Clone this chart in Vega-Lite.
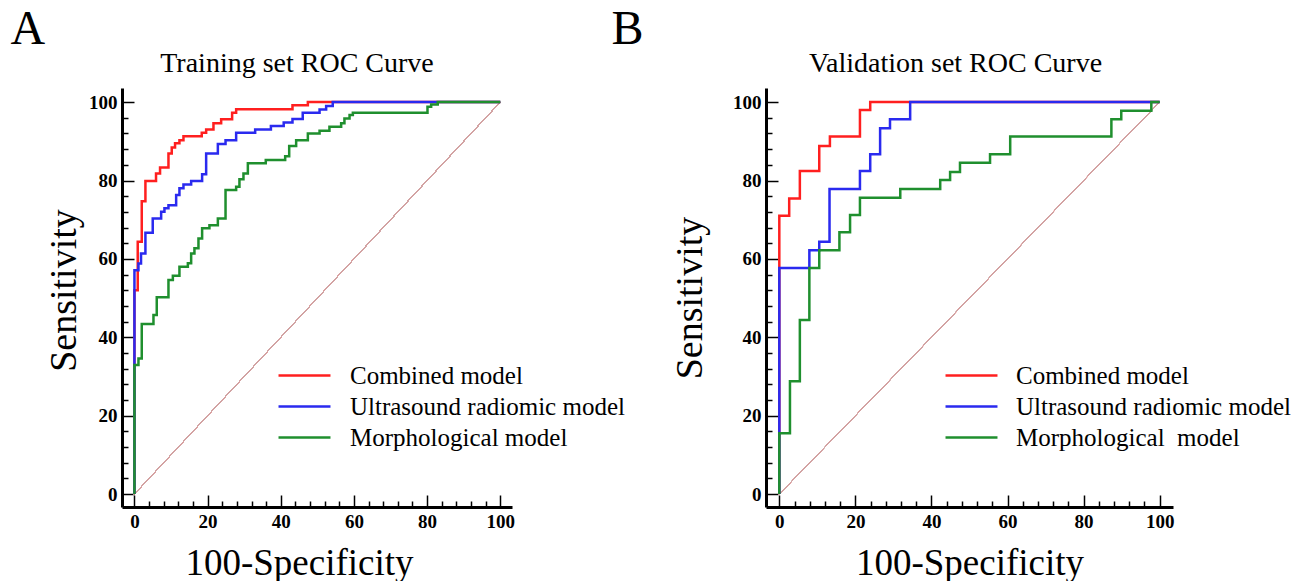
{
  "$schema": "https://vega.github.io/schema/vega-lite/v6.json",
  "background": "white",
  "padding": {"left": 10, "top": 6, "right": 0, "bottom": 0},
  "config": {
    "view": {"stroke": null},
    "font": "Liberation Serif",
    "concat": {"spacing": -14}
  },
  "resolve": {"scale": {"color": "independent"}, "legend": {"color": "independent"}},
  "datasets": {
    "training": [
      {"model": "Combined model", "i": 0, "fpr": 0, "tpr": 0},
      {"model": "Combined model", "i": 1, "fpr": 0, "tpr": 52},
      {"model": "Combined model", "i": 2, "fpr": 0.9, "tpr": 64.4},
      {"model": "Combined model", "i": 3, "fpr": 2.0, "tpr": 74.7},
      {"model": "Combined model", "i": 4, "fpr": 3.0, "tpr": 79.9},
      {"model": "Combined model", "i": 5, "fpr": 5.9, "tpr": 81.8},
      {"model": "Combined model", "i": 6, "fpr": 7.0, "tpr": 83.3},
      {"model": "Combined model", "i": 7, "fpr": 9.3, "tpr": 86.9},
      {"model": "Combined model", "i": 8, "fpr": 10.2, "tpr": 88.4},
      {"model": "Combined model", "i": 9, "fpr": 11.1, "tpr": 89.5},
      {"model": "Combined model", "i": 10, "fpr": 12.3, "tpr": 90.3},
      {"model": "Combined model", "i": 11, "fpr": 13.4, "tpr": 91.3},
      {"model": "Combined model", "i": 12, "fpr": 18.4, "tpr": 92.2},
      {"model": "Combined model", "i": 13, "fpr": 19.6, "tpr": 93.0},
      {"model": "Combined model", "i": 14, "fpr": 21.6, "tpr": 94.6},
      {"model": "Combined model", "i": 15, "fpr": 23.7, "tpr": 95.6},
      {"model": "Combined model", "i": 16, "fpr": 26.7, "tpr": 97.3},
      {"model": "Combined model", "i": 17, "fpr": 27.8, "tpr": 98.2},
      {"model": "Combined model", "i": 18, "fpr": 43.2, "tpr": 99.2},
      {"model": "Combined model", "i": 19, "fpr": 47.4, "tpr": 100},
      {"model": "Combined model", "i": 20, "fpr": 100, "tpr": 100},
      {"model": "Ultrasound radiomic model", "i": 0, "fpr": 0, "tpr": 0},
      {"model": "Ultrasound radiomic model", "i": 1, "fpr": 0, "tpr": 57.1},
      {"model": "Ultrasound radiomic model", "i": 2, "fpr": 1.1, "tpr": 58.8},
      {"model": "Ultrasound radiomic model", "i": 3, "fpr": 1.8, "tpr": 61.4},
      {"model": "Ultrasound radiomic model", "i": 4, "fpr": 3.0, "tpr": 66.7},
      {"model": "Ultrasound radiomic model", "i": 5, "fpr": 5.0, "tpr": 70.3},
      {"model": "Ultrasound radiomic model", "i": 6, "fpr": 7.3, "tpr": 72.0},
      {"model": "Ultrasound radiomic model", "i": 7, "fpr": 8.2, "tpr": 72.9},
      {"model": "Ultrasound radiomic model", "i": 8, "fpr": 9.3, "tpr": 73.7},
      {"model": "Ultrasound radiomic model", "i": 9, "fpr": 11.4, "tpr": 76.3},
      {"model": "Ultrasound radiomic model", "i": 10, "fpr": 12.3, "tpr": 78.0},
      {"model": "Ultrasound radiomic model", "i": 11, "fpr": 13.4, "tpr": 79.0},
      {"model": "Ultrasound radiomic model", "i": 12, "fpr": 15.5, "tpr": 79.9},
      {"model": "Ultrasound radiomic model", "i": 13, "fpr": 18.5, "tpr": 81.6},
      {"model": "Ultrasound radiomic model", "i": 14, "fpr": 19.6, "tpr": 86.9},
      {"model": "Ultrasound radiomic model", "i": 15, "fpr": 22.8, "tpr": 89.3},
      {"model": "Ultrasound radiomic model", "i": 16, "fpr": 24.9, "tpr": 90.3},
      {"model": "Ultrasound radiomic model", "i": 17, "fpr": 27.8, "tpr": 92.2},
      {"model": "Ultrasound radiomic model", "i": 18, "fpr": 33.0, "tpr": 93.0},
      {"model": "Ultrasound radiomic model", "i": 19, "fpr": 37.3, "tpr": 93.9},
      {"model": "Ultrasound radiomic model", "i": 20, "fpr": 40.8, "tpr": 94.8},
      {"model": "Ultrasound radiomic model", "i": 21, "fpr": 43.2, "tpr": 95.7},
      {"model": "Ultrasound radiomic model", "i": 22, "fpr": 46.0, "tpr": 97.3},
      {"model": "Ultrasound radiomic model", "i": 23, "fpr": 50.6, "tpr": 98.1},
      {"model": "Ultrasound radiomic model", "i": 24, "fpr": 52.4, "tpr": 99.0},
      {"model": "Ultrasound radiomic model", "i": 25, "fpr": 54.2, "tpr": 100},
      {"model": "Ultrasound radiomic model", "i": 26, "fpr": 100, "tpr": 100},
      {"model": "Morphological model", "i": 0, "fpr": 0, "tpr": 0},
      {"model": "Morphological model", "i": 1, "fpr": 0, "tpr": 32.9},
      {"model": "Morphological model", "i": 2, "fpr": 1.1, "tpr": 34.6},
      {"model": "Morphological model", "i": 3, "fpr": 2.0, "tpr": 43.4},
      {"model": "Morphological model", "i": 4, "fpr": 5.2, "tpr": 45.7},
      {"model": "Morphological model", "i": 5, "fpr": 6.1, "tpr": 50.2},
      {"model": "Morphological model", "i": 6, "fpr": 9.3, "tpr": 54.6},
      {"model": "Morphological model", "i": 7, "fpr": 10.5, "tpr": 55.7},
      {"model": "Morphological model", "i": 8, "fpr": 12.3, "tpr": 58.0},
      {"model": "Morphological model", "i": 9, "fpr": 14.6, "tpr": 58.9},
      {"model": "Morphological model", "i": 10, "fpr": 15.5, "tpr": 61.4},
      {"model": "Morphological model", "i": 11, "fpr": 16.4, "tpr": 62.7},
      {"model": "Morphological model", "i": 12, "fpr": 17.5, "tpr": 65.2},
      {"model": "Morphological model", "i": 13, "fpr": 18.5, "tpr": 67.8},
      {"model": "Morphological model", "i": 14, "fpr": 20.5, "tpr": 68.6},
      {"model": "Morphological model", "i": 15, "fpr": 22.8, "tpr": 70.3},
      {"model": "Morphological model", "i": 16, "fpr": 24.9, "tpr": 77.6},
      {"model": "Morphological model", "i": 17, "fpr": 27.8, "tpr": 78.4},
      {"model": "Morphological model", "i": 18, "fpr": 28.7, "tpr": 80.3},
      {"model": "Morphological model", "i": 19, "fpr": 29.8, "tpr": 81.8},
      {"model": "Morphological model", "i": 20, "fpr": 31.0, "tpr": 84.4},
      {"model": "Morphological model", "i": 21, "fpr": 35.9, "tpr": 85.2},
      {"model": "Morphological model", "i": 22, "fpr": 41.2, "tpr": 86.2},
      {"model": "Morphological model", "i": 23, "fpr": 42.3, "tpr": 88.8},
      {"model": "Morphological model", "i": 24, "fpr": 44.2, "tpr": 90.3},
      {"model": "Morphological model", "i": 25, "fpr": 47.4, "tpr": 92.0},
      {"model": "Morphological model", "i": 26, "fpr": 50.6, "tpr": 92.7},
      {"model": "Morphological model", "i": 27, "fpr": 53.3, "tpr": 93.7},
      {"model": "Morphological model", "i": 28, "fpr": 56.5, "tpr": 94.6},
      {"model": "Morphological model", "i": 29, "fpr": 57.4, "tpr": 95.8},
      {"model": "Morphological model", "i": 30, "fpr": 58.8, "tpr": 96.7},
      {"model": "Morphological model", "i": 31, "fpr": 59.7, "tpr": 97.3},
      {"model": "Morphological model", "i": 32, "fpr": 80.1, "tpr": 98.8},
      {"model": "Morphological model", "i": 33, "fpr": 81.1, "tpr": 99.4},
      {"model": "Morphological model", "i": 34, "fpr": 82.9, "tpr": 100},
      {"model": "Morphological model", "i": 35, "fpr": 100, "tpr": 100}
    ],
    "validation": [
      {"model": "Combined model", "i": 0, "fpr": 0, "tpr": 0},
      {"model": "Combined model", "i": 1, "fpr": 0, "tpr": 71.0},
      {"model": "Combined model", "i": 2, "fpr": 2.6, "tpr": 75.4},
      {"model": "Combined model", "i": 3, "fpr": 5.4, "tpr": 82.4},
      {"model": "Combined model", "i": 4, "fpr": 10.5, "tpr": 88.8},
      {"model": "Combined model", "i": 5, "fpr": 13.3, "tpr": 91.2},
      {"model": "Combined model", "i": 6, "fpr": 21.2, "tpr": 98.0},
      {"model": "Combined model", "i": 7, "fpr": 23.9, "tpr": 100},
      {"model": "Combined model", "i": 8, "fpr": 100, "tpr": 100},
      {"model": "Ultrasound radiomic model", "i": 0, "fpr": 0, "tpr": 0},
      {"model": "Ultrasound radiomic model", "i": 1, "fpr": 0, "tpr": 57.7},
      {"model": "Ultrasound radiomic model", "i": 2, "fpr": 7.9, "tpr": 62.2},
      {"model": "Ultrasound radiomic model", "i": 3, "fpr": 10.5, "tpr": 64.4},
      {"model": "Ultrasound radiomic model", "i": 4, "fpr": 13.2, "tpr": 77.8},
      {"model": "Ultrasound radiomic model", "i": 5, "fpr": 21.2, "tpr": 82.4},
      {"model": "Ultrasound radiomic model", "i": 6, "fpr": 23.9, "tpr": 86.7},
      {"model": "Ultrasound radiomic model", "i": 7, "fpr": 26.5, "tpr": 93.3},
      {"model": "Ultrasound radiomic model", "i": 8, "fpr": 29.1, "tpr": 95.6},
      {"model": "Ultrasound radiomic model", "i": 9, "fpr": 34.4, "tpr": 100},
      {"model": "Ultrasound radiomic model", "i": 10, "fpr": 100, "tpr": 100},
      {"model": "Morphological\u00a0 model", "i": 0, "fpr": 0, "tpr": 0},
      {"model": "Morphological\u00a0 model", "i": 1, "fpr": 0, "tpr": 15.5},
      {"model": "Morphological\u00a0 model", "i": 2, "fpr": 2.8, "tpr": 28.8},
      {"model": "Morphological\u00a0 model", "i": 3, "fpr": 5.4, "tpr": 44.4},
      {"model": "Morphological\u00a0 model", "i": 4, "fpr": 7.9, "tpr": 57.7},
      {"model": "Morphological\u00a0 model", "i": 5, "fpr": 10.5, "tpr": 62.2},
      {"model": "Morphological\u00a0 model", "i": 6, "fpr": 15.8, "tpr": 66.8},
      {"model": "Morphological\u00a0 model", "i": 7, "fpr": 18.6, "tpr": 71.2},
      {"model": "Morphological\u00a0 model", "i": 8, "fpr": 21.2, "tpr": 75.6},
      {"model": "Morphological\u00a0 model", "i": 9, "fpr": 31.8, "tpr": 77.8},
      {"model": "Morphological\u00a0 model", "i": 10, "fpr": 42.3, "tpr": 80.1},
      {"model": "Morphological\u00a0 model", "i": 11, "fpr": 44.9, "tpr": 82.2},
      {"model": "Morphological\u00a0 model", "i": 12, "fpr": 47.5, "tpr": 84.5},
      {"model": "Morphological\u00a0 model", "i": 13, "fpr": 55.4, "tpr": 86.7},
      {"model": "Morphological\u00a0 model", "i": 14, "fpr": 60.7, "tpr": 91.2},
      {"model": "Morphological\u00a0 model", "i": 15, "fpr": 87.3, "tpr": 95.6},
      {"model": "Morphological\u00a0 model", "i": 16, "fpr": 89.9, "tpr": 97.8},
      {"model": "Morphological\u00a0 model", "i": 17, "fpr": 97.8, "tpr": 100},
      {"model": "Morphological\u00a0 model", "i": 18, "fpr": 100, "tpr": 100}
    ]
  },
  "hconcat": [
    {
      "title": {"text": "A", "anchor": "start", "frame": "bounds", "fontSize": 48, "font": "Liberation Serif", "fontWeight": "normal", "color": "black", "dx": -35, "offset": -4},
      "hconcat": [
        {
          "width": 390,
          "height": 419,
          "title": {"text": "Training set ROC Curve", "anchor": "middle", "frame": "group", "dx": -20, "fontSize": 28, "font": "Liberation Serif", "fontWeight": "normal", "color": "black", "offset": 10},
          "data": {"name": "training"},
          "layer": [
            {
              "mark": {"type": "rule", "color": "#d3a3a3", "strokeWidth": 1},
              "encoding": {
                "x": {"datum": 0, "type": "quantitative", "scale": {"domain": [-3.4, 103.2], "nice": false, "zero": false}},
                "y": {"datum": 0, "type": "quantitative", "scale": {"domain": [-3.3, 103.6], "nice": false, "zero": false}},
                "x2": {"datum": 100},
                "y2": {"datum": 100}
              }
            },
            {
              "mark": {"type": "line", "interpolate": "step-after", "strokeWidth": 2.5},
              "encoding": {
                "x": {"field": "fpr", "type": "quantitative",
                  "scale": {"domain": [-3.4, 103.2], "nice": false, "zero": false},
                  "axis": {
                    "values": [0,4,8,12,16,20,24,28,32,36,40,44,48,52,56,60,64,68,72,76,80,84,88,92,96,100],
                    "tickCount": 200, "format": "d",
                    "labelExpr": "datum.value % 20 === 0 ? datum.label : ''",
                    "tickSize": {"condition": {"test": "datum.value % 20 === 0", "value": -12}, "value": -6},
                    "tickColor": "black", "tickWidth": 1.5,
                    "domainColor": "black", "domainWidth": 3,
                    "grid": false,
                    "labelFont": "Liberation Serif", "labelFontWeight": "bold", "labelFontSize": 19, "labelColor": "black",
                    "labelPadding": 17, "labelFlush": false, "labelOverlap": false,
                    "title": "100-Specificity", "titleFont": "Liberation Serif", "titleFontSize": 37, "titleFontWeight": "normal", "titleColor": "black", "titlePadding": 8, "titleX": 177, "titleAlign": "center"
                  }
                },
                "y": {"field": "tpr", "type": "quantitative",
                  "scale": {"domain": [-3.3, 103.6], "nice": false, "zero": false},
                  "axis": {
                    "values": [0,4,8,12,16,20,24,28,32,36,40,44,48,52,56,60,64,68,72,76,80,84,88,92,96,100],
                    "tickCount": 200, "format": "d",
                    "labelExpr": "datum.value % 20 === 0 ? datum.label : ''",
                    "tickSize": {"condition": {"test": "datum.value % 20 === 0", "value": -12}, "value": -6},
                    "tickColor": "black", "tickWidth": 1.5,
                    "domainColor": "black", "domainWidth": 3,
                    "grid": false,
                    "labelFont": "Liberation Serif", "labelFontWeight": "bold", "labelFontSize": 19, "labelColor": "black",
                    "labelPadding": 17, "labelFlush": false, "labelOverlap": false,
                    "title": "Sensitivity", "titleFont": "Liberation Serif", "titleFontSize": 38, "titleFontWeight": "normal", "titleColor": "black", "titlePadding": 5, "titleY": 202, "titleAlign": "center"
                  }
                },
                "color": {"field": "model", "type": "nominal",
                  "scale": {"domain": ["Combined model", "Ultrasound radiomic model", "Morphological model"], "range": ["#ff1f1f", "#2a2aef", "#1f8f2e"]},
                  "legend": {"orient": "none", "legendX": 155, "legendY": 272, "title": null, "symbolType": "stroke", "symbolSize": 2700, "symbolStrokeWidth": 2.5, "labelFont": "Liberation Serif", "labelFontSize": 25, "labelColor": "black", "labelOffset": 18, "clipHeight": 31, "rowPadding": 0, "labelLimit": 400}
                },
                "order": {"field": "i"}
              }
            }
          ]
        }
      ]
    },
    {
      "title": {"text": "B", "anchor": "start", "frame": "bounds", "fontSize": 48, "font": "Liberation Serif", "fontWeight": "normal", "color": "black", "dx": -60, "offset": -4},
      "hconcat": [
        {
          "width": 407,
          "height": 419,
          "title": {"text": "Validation set ROC Curve", "anchor": "middle", "frame": "group", "dx": -14, "fontSize": 28, "font": "Liberation Serif", "fontWeight": "normal", "color": "black", "offset": 10},
          "data": {"name": "validation"},
          "layer": [
            {
              "mark": {"type": "rule", "color": "#d3a3a3", "strokeWidth": 1},
              "encoding": {
                "x": {"datum": 0, "type": "quantitative", "scale": {"domain": [-3.5, 103.5], "nice": false, "zero": false}},
                "y": {"datum": 0, "type": "quantitative", "scale": {"domain": [-3.3, 103.6], "nice": false, "zero": false}},
                "x2": {"datum": 100},
                "y2": {"datum": 100}
              }
            },
            {
              "mark": {"type": "line", "interpolate": "step-after", "strokeWidth": 2.5},
              "encoding": {
                "x": {"field": "fpr", "type": "quantitative",
                  "scale": {"domain": [-3.5, 103.5], "nice": false, "zero": false},
                  "axis": {
                    "values": [0,4,8,12,16,20,24,28,32,36,40,44,48,52,56,60,64,68,72,76,80,84,88,92,96,100],
                    "tickCount": 200, "format": "d",
                    "labelExpr": "datum.value % 20 === 0 ? datum.label : ''",
                    "tickSize": {"condition": {"test": "datum.value % 20 === 0", "value": -12}, "value": -6},
                    "tickColor": "black", "tickWidth": 1.5,
                    "domainColor": "black", "domainWidth": 3,
                    "grid": false,
                    "labelFont": "Liberation Serif", "labelFontWeight": "bold", "labelFontSize": 19, "labelColor": "black",
                    "labelPadding": 17, "labelFlush": false, "labelOverlap": false,
                    "title": "100-Specificity", "titleFont": "Liberation Serif", "titleFontSize": 37, "titleFontWeight": "normal", "titleColor": "black", "titlePadding": 8
                  }
                },
                "y": {"field": "tpr", "type": "quantitative",
                  "scale": {"domain": [-3.3, 103.6], "nice": false, "zero": false},
                  "axis": {
                    "values": [0,4,8,12,16,20,24,28,32,36,40,44,48,52,56,60,64,68,72,76,80,84,88,92,96,100],
                    "tickCount": 200, "format": "d",
                    "labelExpr": "datum.value % 20 === 0 ? datum.label : ''",
                    "tickSize": {"condition": {"test": "datum.value % 20 === 0", "value": -12}, "value": -6},
                    "tickColor": "black", "tickWidth": 1.5,
                    "domainColor": "black", "domainWidth": 3,
                    "grid": false,
                    "labelFont": "Liberation Serif", "labelFontWeight": "bold", "labelFontSize": 19, "labelColor": "black",
                    "labelPadding": 17, "labelFlush": false, "labelOverlap": false,
                    "title": "Sensitivity", "titleFont": "Liberation Serif", "titleFontSize": 38, "titleFontWeight": "normal", "titleColor": "black", "titlePadding": 23
                  }
                },
                "color": {"field": "model", "type": "nominal",
                  "scale": {"domain": ["Combined model", "Ultrasound radiomic model", "Morphological\u00a0 model"], "range": ["#ff1f1f", "#2a2aef", "#1f8f2e"]},
                  "legend": {"orient": "none", "legendX": 178, "legendY": 272, "title": null, "symbolType": "stroke", "symbolSize": 2700, "symbolStrokeWidth": 2.5, "labelFont": "Liberation Serif", "labelFontSize": 25, "labelColor": "black", "labelOffset": 17, "clipHeight": 31, "rowPadding": 0, "labelLimit": 400}
                },
                "order": {"field": "i"}
              }
            }
          ]
        }
      ]
    }
  ]
}
